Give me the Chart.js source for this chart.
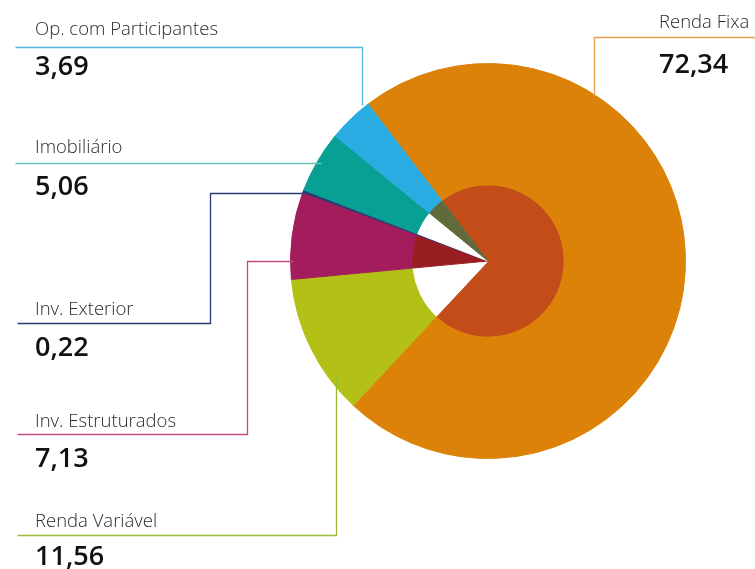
<!DOCTYPE html>
<html lang="pt">
<head>
  <meta charset="UTF-8" />
  <title>Composição da carteira</title>
  <script src="https://cdn.jsdelivr.net/npm/chart.js"></script>
  <style>
    html, body {
      margin: 0;
      padding: 0;
      background: #fff;
    }
    #wrap {
      position: relative;
      width: 755px;
      height: 569px;
      overflow: hidden;
      font-family: "Open Sans", "Noto Sans", sans-serif;
    }
    #chart {
      position: absolute;
      left: 0;
      top: 0;
    }
    .lbl, .val {
      position: absolute;
      white-space: nowrap;
      line-height: 1;
    }
    .lbl {
      font-size: 18.5px;
      font-weight: 300;
      color: #2a2a2a;
    }
    .val {
      font-size: 27px;
      font-weight: 600;
      color: #111;
    }
  </style>
</head>
<body>
  <div id="wrap">
    <canvas id="chart" width="755" height="569"></canvas>
  </div>

  <script>
    // dados (%)
    const categories = ['Renda Fixa', 'Renda Variável', 'Inv. Estruturados', 'Inv. Exterior', 'Imobiliário', 'Op. com Participantes'];
    const shares = [72.34, 11.56, 7.13, 0.22, 5.06, 3.69];
    const outerColors = ['#dc8209', '#b3c016', '#a31c5c', '#2b3c74', '#08a094', '#2aace2'];
    const innerColors = ['#c24d19', '#ffffff', '#981e22', '#2b3c74', '#ffffff', '#5f6b3b'];
    const lineColors = ['#e6a04a', '#98bb33', '#c04a84', '#2b3c74', '#66c2ba', '#52b9e3'];

    // posição dos rótulos e linhas de chamada (layout)
    const callouts = [
      { x: 659, label: 28, value: 73, path: [[594, 96], [594, 37], [755, 37]] },
      { x: 35, label: 527, value: 565, path: [[336, 373], [336, 535], [17, 535]] },
      { x: 35, label: 427, value: 467, path: [[293, 261], [247, 261], [247, 434], [17, 434]] },
      { x: 35, label: 315, value: 356, path: [[305, 193], [210, 193], [210, 323], [17, 323]] },
      { x: 35, label: 153, value: 195, path: [[321, 163], [15, 163]] },
      { x: 35, label: 35, value: 75, path: [[362, 105], [362, 47], [15, 47]] }
    ];

    const wrap = document.getElementById('wrap');

    function addText(cls, text, x, baseline, size) {
      const el = document.createElement('div');
      el.className = cls;
      el.textContent = text;
      el.style.left = x + 'px';
      el.style.top = (baseline - 0.888 * size) + 'px';
      wrap.appendChild(el);
    }

    categories.forEach((name, i) => {
      const c = callouts[i];
      addText('lbl', name, c.x, c.label, 18.5);
      addText('val', shares[i].toFixed(2).replace('.', ','), c.x, c.value, 27);
    });

    // linhas de chamada
    const leaderLines = {
      id: 'leaderLines',
      afterDraw(chart) {
        const ctx = chart.ctx;
        ctx.save();
        ctx.lineWidth = 1.3;
        callouts.forEach((c, i) => {
          ctx.strokeStyle = lineColors[i];
          ctx.beginPath();
          c.path.forEach((p, j) => {
            const x = p[0] + 0.5, y = p[1] + 0.5;
            j ? ctx.lineTo(x, y) : ctx.moveTo(x, y);
          });
          ctx.stroke();
        });
        ctx.restore();
      }
    };

    new Chart(document.getElementById('chart').getContext('2d'), {
      type: 'pie',
      data: {
        labels: categories,
        datasets: [
          {
            data: shares,
            backgroundColor: outerColors,
            borderColor: outerColors,
            borderWidth: 1,
            hoverOffset: 0,
            weight: 121
          },
          {
            data: shares,
            backgroundColor: innerColors,
            borderColor: innerColors,
            borderWidth: 1,
            hoverOffset: 0,
            weight: 76
          }
        ]
      },
      options: {
        responsive: false,
        animation: false,
        events: [],
        rotation: -37.4,
        layout: {
          padding: { left: 290, right: 69, top: 63, bottom: 110 }
        },
        plugins: {
          legend: { display: false },
          tooltip: { enabled: false }
        }
      },
      plugins: [leaderLines]
    });
  </script>
</body>
</html>
